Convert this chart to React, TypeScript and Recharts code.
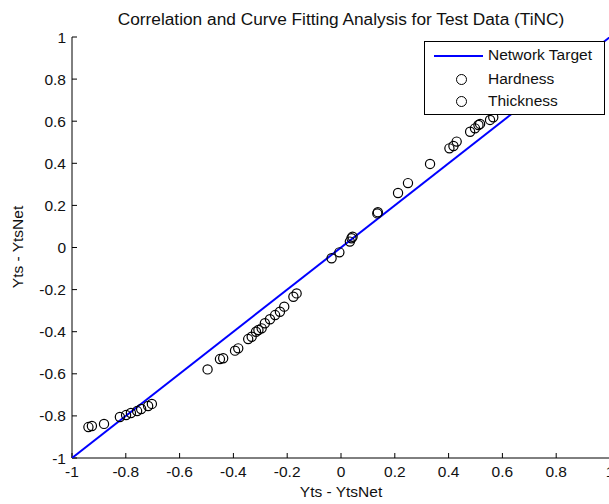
import React from 'react';
import { ScatterChart, Scatter, XAxis, YAxis } from 'recharts';

const xTicks = [-1, -0.8, -0.6, -0.4, -0.2, 0, 0.2, 0.4, 0.6, 0.8, 1];
const yTicks = [-1, -0.8, -0.6, -0.4, -0.2, 0, 0.2, 0.4, 0.6, 0.8, 1];

const targetX = [-1, 1];
const targetY = [-1, 1];

const hardnessX = [-0.939, -0.881, -0.799, -0.758, -0.717, -0.496, -0.438, -0.382, -0.332, -0.307, -0.283, -0.245, -0.211, -0.165, -0.006, 0.039, 0.135, 0.212, 0.331, 0.418, 0.480, 0.511, 0.554];
const hardnessY = [-0.853, -0.838, -0.796, -0.777, -0.753, -0.579, -0.526, -0.479, -0.424, -0.392, -0.360, -0.321, -0.281, -0.218, -0.023, 0.044, 0.162, 0.259, 0.397, 0.482, 0.550, 0.582, 0.606];

const thicknessX = [-0.926, -0.822, -0.781, -0.743, -0.703, -0.450, -0.394, -0.345, -0.316, -0.295, -0.264, -0.227, -0.177, -0.035, 0.033, 0.043, 0.137, 0.249, 0.403, 0.430, 0.498, 0.517, 0.566];
const thicknessY = [-0.848, -0.805, -0.786, -0.767, -0.743, -0.530, -0.490, -0.435, -0.400, -0.384, -0.341, -0.305, -0.234, -0.051, 0.028, 0.051, 0.168, 0.306, 0.471, 0.503, 0.566, 0.587, 0.619];

const toPoints = (xs: number[], ys: number[]) => xs.map((x, i) => ({ x, y: ys[i] }));

const targetData = toPoints(targetX, targetY);
const hardnessData = toPoints(hardnessX, hardnessY);
const thicknessData = toPoints(thicknessX, thicknessY);

const FONT = '"Liberation Sans", Arial, Helvetica, sans-serif';

const Ring = (props: any) => (
  <circle cx={props.cx} cy={props.cy} r={4.6} fill="none" stroke="#000" strokeWidth={1.2} />
);
const NoShape = () => <g />;

const tickStyle = { fontSize: 15.5, fill: '#111', fontFamily: FONT };

export default function App() {
  return (
    <div style={{ position: 'absolute', left: 0, top: 0, width: 609, height: 504, overflow: 'hidden', background: '#fff', fontFamily: FONT }}>
      <ScatterChart width={620} height={504} margin={{ top: 37, right: 10, bottom: 0, left: 0 }}>
        <XAxis
          xAxisId="b"
          type="number"
          dataKey="x"
          domain={[-1, 1]}
          ticks={xTicks}
          height={46}
          orientation="bottom"
          tickSize={-5}
          tickMargin={13}
          tick={tickStyle}
          stroke="#000"
          tickLine={{ stroke: '#000' }}
          axisLine={{ stroke: '#000' }}
          allowDataOverflow
        />
        <XAxis
          xAxisId="t"
          type="number"
          dataKey="x"
          domain={[-1, 1]}
          ticks={xTicks}
          height={0}
          orientation="top"
          tickSize={-5}
          tickFormatter={() => ''}
          stroke="#000"
          tickLine={{ stroke: '#000' }}
          axisLine={{ stroke: '#000' }}
          allowDataOverflow
        />
        <YAxis
          yAxisId="l"
          type="number"
          dataKey="y"
          domain={[-1, 1]}
          ticks={yTicks}
          width={72}
          orientation="left"
          tickSize={-5}
          tickMargin={11}
          tick={tickStyle}
          stroke="#000"
          tickLine={{ stroke: '#000' }}
          axisLine={{ stroke: '#000' }}
          allowDataOverflow
        />
        <YAxis
          yAxisId="r"
          type="number"
          dataKey="y"
          domain={[-1, 1]}
          ticks={yTicks}
          width={0}
          orientation="right"
          tickSize={-5}
          tickFormatter={() => ''}
          stroke="#000"
          tickLine={{ stroke: '#000' }}
          axisLine={{ stroke: '#000' }}
          allowDataOverflow
        />
        <Scatter
          name="Network Target"
          data={targetData}
          xAxisId="b"
          yAxisId="l"
          line={{ stroke: '#0000ff', strokeWidth: 2 }}
          shape={NoShape}
          isAnimationActive={false}
        />
        <Scatter
          name="Hardness"
          data={hardnessData}
          xAxisId="b"
          yAxisId="l"
          shape={Ring}
          isAnimationActive={false}
        />
        <Scatter
          name="Thickness"
          data={thicknessData}
          xAxisId="b"
          yAxisId="l"
          shape={Ring}
          isAnimationActive={false}
        />
        <Scatter
          name="frame"
          data={targetData}
          xAxisId="t"
          yAxisId="r"
          shape={NoShape}
          isAnimationActive={false}
          legendType="none"
        />
      </ScatterChart>

      <div style={{ position: 'absolute', left: 0, width: 682, top: 9, textAlign: 'center', fontSize: 17.3, color: '#111', lineHeight: '20px', whiteSpace: 'nowrap' }}>
        Correlation and Curve Fitting Analysis for Test Data (TiNC)
      </div>
      <div style={{ position: 'absolute', left: 0, width: 682, top: 482, textAlign: 'center', fontSize: 15.5, color: '#111', lineHeight: '20px', whiteSpace: 'nowrap' }}>
        Yts - YtsNet
      </div>
      <div style={{ position: 'absolute', left: 18, top: 247, width: 0, height: 0 }}>
        <div style={{ position: 'absolute', left: -60, top: -10, width: 120, lineHeight: '20px', textAlign: 'center', fontSize: 15.5, color: '#111', transform: 'rotate(-90deg)', whiteSpace: 'nowrap' }}>
          Yts - YtsNet
        </div>
      </div>

      <div style={{ position: 'absolute', left: 424, top: 41, width: 179, height: 72, border: '1px solid #000', background: '#fff', fontSize: 15.5, color: '#111' }}>
        <div style={{ position: 'absolute', left: 9, top: 13, width: 49, height: 2, background: '#0000ff' }} />
        <div style={{ position: 'absolute', left: 63, top: 3, lineHeight: '20px', whiteSpace: 'nowrap' }}>Network Target</div>
        <div style={{ position: 'absolute', left: 31, top: 32, width: 9, height: 9, borderRadius: '50%', border: '1.2px solid #000' }} />
        <div style={{ position: 'absolute', left: 63, top: 27, lineHeight: '20px', whiteSpace: 'nowrap' }}>Hardness</div>
        <div style={{ position: 'absolute', left: 31, top: 54, width: 9, height: 9, borderRadius: '50%', border: '1.2px solid #000' }} />
        <div style={{ position: 'absolute', left: 63, top: 49, lineHeight: '20px', whiteSpace: 'nowrap' }}>Thickness</div>
      </div>
    </div>
  );
}
